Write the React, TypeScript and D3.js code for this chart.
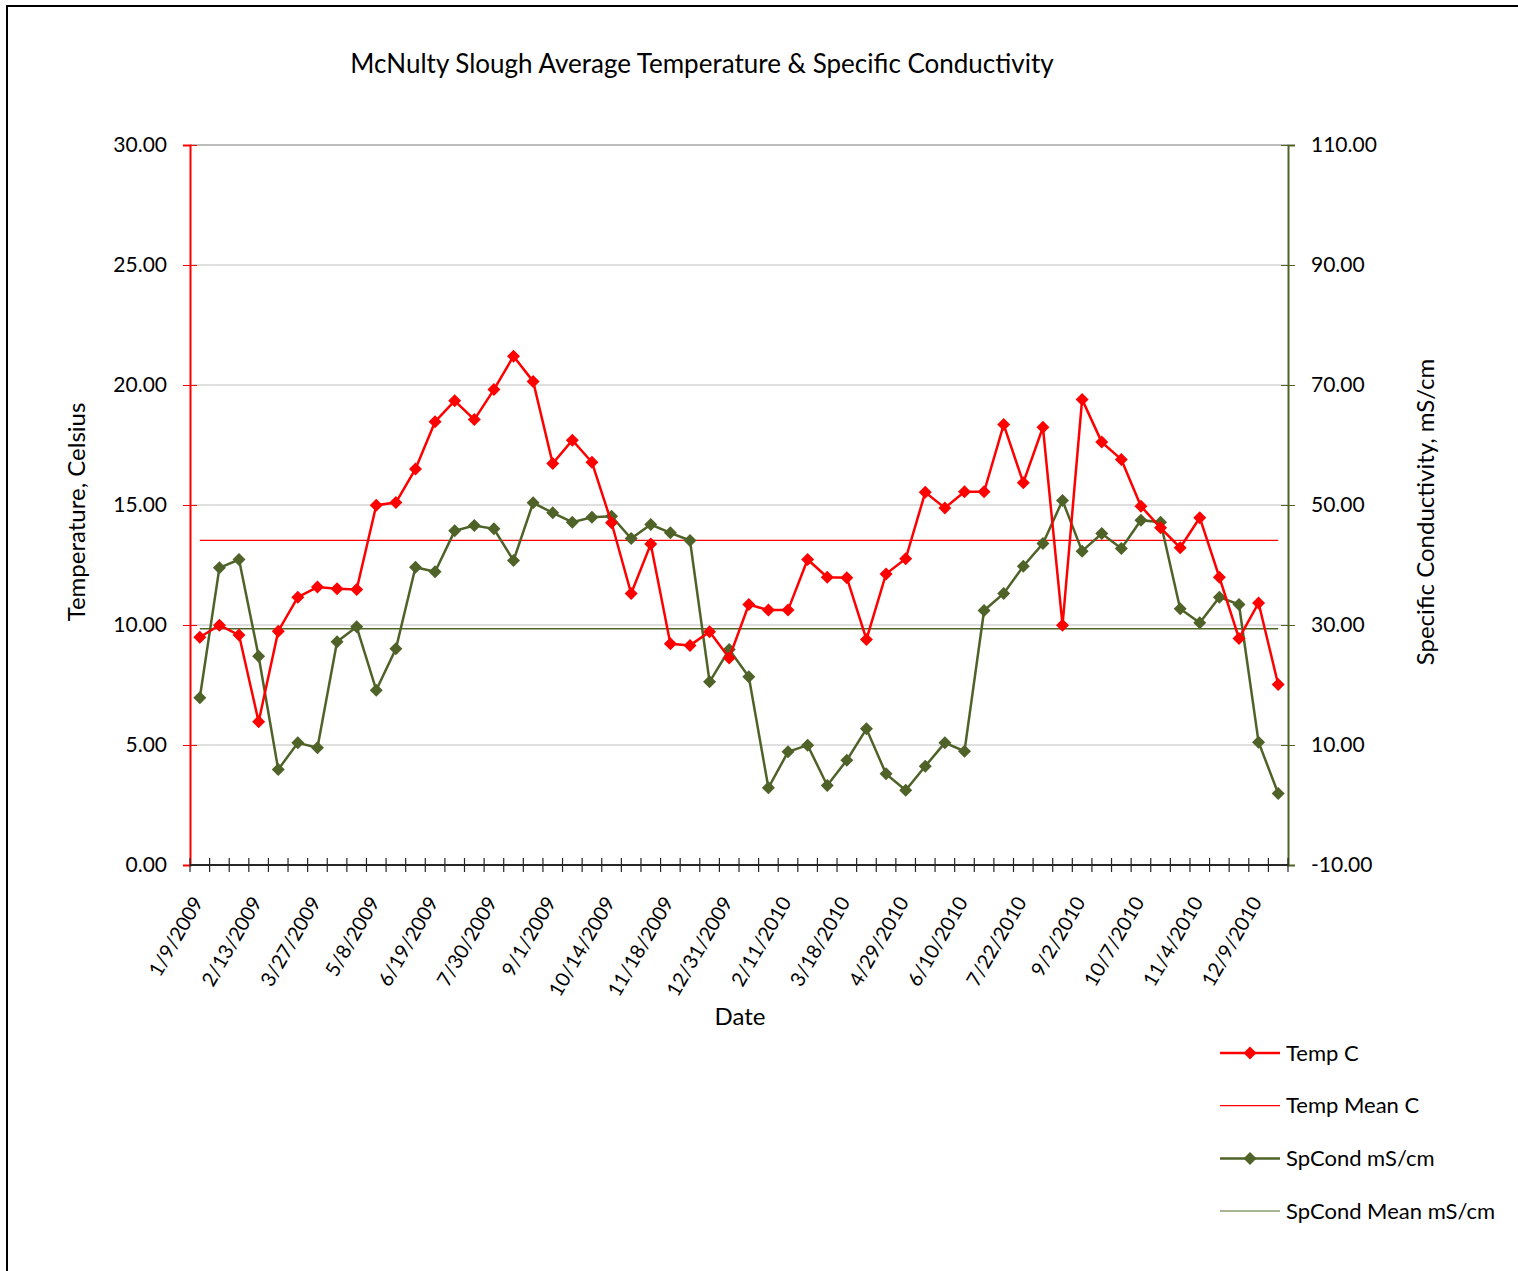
import React, { useRef, useLayoutEffect } from "react";
import * as d3 from "d3";

const tempC = [
  9.49, 9.99, 9.58, 5.97, 9.74, 11.16, 11.58, 11.51, 11.48, 14.99, 15.1, 16.5,
  18.47, 19.34, 18.56, 19.81, 21.2, 20.15, 16.73, 17.7, 16.78, 14.26, 11.31,
  13.37, 9.22, 9.15, 9.72, 8.63, 10.85, 10.62, 10.62, 12.73, 11.99, 11.97, 9.4,
  12.13, 12.76, 15.53, 14.88, 15.55, 15.55, 18.35, 15.93, 18.24, 9.99, 19.4,
  17.62, 16.9, 14.95, 14.05, 13.22, 14.47, 11.99, 9.44, 10.92, 7.52,
];

const spCond = [
  17.87, 39.53, 40.92, 24.8, 5.92, 10.36, 9.53, 27.2, 29.69, 19.14, 26.03,
  39.64, 38.86, 45.69, 46.58, 46.03, 40.75, 50.36, 48.69, 47.14, 47.97, 48.14,
  44.42, 46.75, 45.36, 44.08, 20.53, 25.92, 21.36, 2.86, 8.86, 9.97, 3.25, 7.47,
  12.69, 5.19, 2.47, 6.47, 10.36, 8.97, 32.42, 35.25, 39.8, 43.58, 50.75, 42.3,
  45.25, 42.75, 47.47, 47.14, 32.69, 30.36, 34.64, 33.42, 10.47, 1.92,
];

const tempMean = 13.53;
const spCondMean = 29.37;

// one label every third sample
const dateLabels = [
  "1/9/2009", "2/13/2009", "3/27/2009", "5/8/2009", "6/19/2009", "7/30/2009",
  "9/1/2009", "10/14/2009", "11/18/2009", "12/31/2009", "2/11/2010",
  "3/18/2010", "4/29/2010", "6/10/2010", "7/22/2010", "9/2/2010", "10/7/2010",
  "11/4/2010", "12/9/2010",
];

const tempTicks = [0, 5, 10, 15, 20, 25, 30];
const condTicks = [-10, 10, 30, 50, 70, 90, 110];

const legendItems = [
  { label: "Temp C", color: "#FF0000", width: 2.5, marker: true },
  { label: "Temp Mean C", color: "#FF0000", width: 1.2, marker: false },
  { label: "SpCond mS/cm", color: "#4F6228", width: 2.5, marker: true },
  { label: "SpCond Mean mS/cm", color: "#8A9A6E", width: 1.5, marker: false },
];

const RED = "#FF0000";
const GREEN = "#4F6228";
const FONT = "Lato, 'Open Sans', sans-serif";
const diamond = "M0,-6.5L6.5,0L0,6.5L-6.5,0Z";

export default function App() {
  const svgRef = useRef<SVGSVGElement | null>(null);

  useLayoutEffect(() => {
    const svg = svgRef.current;
    if (!svg) return;
    const W = 1518;
    const H = 1271;
    const M = { l: 190, r: 1288, t: 145, b: 865 };

    const idx = d3.range(tempC.length);
    const x = d3.scaleBand<number>().domain(idx).range([M.l, M.r]);
    const cx = (i: number) => (x(i) as number) + x.bandwidth() / 2;
    const yT = d3.scaleLinear().domain([0, 30]).range([M.b, M.t]);
    const yC = d3.scaleLinear().domain([-10, 110]).range([M.b, M.t]);
    const fmt = (d: d3.NumberValue) => (+d).toFixed(2);

    const sel = d3.select(svg);
    sel.selectAll("*").remove();
    sel.attr("width", W).attr("height", H).style("font-family", FONT);

    sel.append("rect").attr("width", W).attr("height", H).attr("fill", "#fff");

    // outer chart frame (runs past the window on right/bottom)
    sel
      .append("path")
      .attr("d", `M7,${H + 5}V6H${W + 5}`)
      .attr("fill", "none")
      .attr("stroke", "#000")
      .attr("stroke-width", 2);

    sel
      .append("text")
      .attr("x", 702)
      .attr("y", 73)
      .attr("text-anchor", "middle")
      .attr("font-size", 26)
      .attr("fill", "#000")
      .text("McNulty Slough Average Temperature & Specific Conductivity");

    // gridlines
    sel
      .append("g")
      .selectAll("line")
      .data(tempTicks.slice(1))
      .enter()
      .append("line")
      .attr("x1", M.l)
      .attr("x2", M.r)
      .attr("y1", (d) => yT(d))
      .attr("y2", (d) => yT(d))
      .attr("stroke", (d) => (d === 30 ? "#a6a6a6" : "#d4d4d4"))
      .attr("stroke-width", 1.5);

    // left axis
    const gl = sel
      .append("g")
      .attr("transform", `translate(${M.l},0)`)
      .call(d3.axisLeft(yT).tickValues(tempTicks).tickFormat(fmt).tickSize(7).tickPadding(16));
    gl.select(".domain").attr("stroke", RED).attr("stroke-width", 2);
    gl.selectAll(".tick line").attr("x1", 7).attr("x2", -7).attr("stroke", RED);
    gl.selectAll(".tick text").attr("font-size", 21).attr("fill", "#000").attr("font-family", FONT);

    // right axis
    const gr = sel
      .append("g")
      .attr("transform", `translate(${M.r},0)`)
      .call(d3.axisRight(yC).tickValues(condTicks).tickFormat(fmt).tickSize(7).tickPadding(16));
    gr.select(".domain").attr("stroke", GREEN).attr("stroke-width", 2);
    gr.selectAll(".tick line").attr("x1", -7).attr("x2", 7).attr("stroke", GREEN);
    gr.selectAll(".tick text").attr("font-size", 21).attr("fill", "#000").attr("font-family", FONT);

    // bottom category axis
    const gb = sel.append("g");
    gb.append("line")
      .attr("x1", M.l)
      .attr("x2", M.r)
      .attr("y1", M.b)
      .attr("y2", M.b)
      .attr("stroke", "#262626")
      .attr("stroke-width", 2);
    gb.selectAll("line.tk")
      .data(d3.range(tempC.length + 1))
      .enter()
      .append("line")
      .attr("class", "tk")
      .attr("x1", (i) => M.l + i * x.bandwidth())
      .attr("x2", (i) => M.l + i * x.bandwidth())
      .attr("y1", M.b - 7)
      .attr("y2", M.b + 7)
      .attr("stroke", "#262626")
      .attr("stroke-width", 1.2);
    gb.selectAll("text")
      .data(dateLabels)
      .enter()
      .append("text")
      .attr("transform", (_, k) => `translate(${cx(k * 3) + 4},902) rotate(-60)`)
      .attr("text-anchor", "end")
      .attr("font-size", 20)
      .attr("fill", "#000")
      .text((d) => d);

    // axis titles
    sel
      .append("text")
      .attr("transform", `translate(85,512) rotate(-90)`)
      .attr("text-anchor", "middle")
      .attr("font-size", 24)
      .attr("fill", "#000")
      .text("Temperature, Celsius");
    sel
      .append("text")
      .attr("transform", `translate(1434,512) rotate(-90)`)
      .attr("text-anchor", "middle")
      .attr("font-size", 24)
      .attr("fill", "#000")
      .text("Specific Conductivity, mS/cm");
    sel
      .append("text")
      .attr("x", 740)
      .attr("y", 1025)
      .attr("text-anchor", "middle")
      .attr("font-size", 24)
      .attr("fill", "#000")
      .text("Date");

    // mean lines
    sel
      .append("line")
      .attr("x1", cx(0))
      .attr("x2", cx(idx.length - 1))
      .attr("y1", yT(tempMean))
      .attr("y2", yT(tempMean))
      .attr("stroke", RED)
      .attr("stroke-width", 1.3);
    sel
      .append("line")
      .attr("x1", cx(0))
      .attr("x2", cx(idx.length - 1))
      .attr("y1", yC(spCondMean))
      .attr("y2", yC(spCondMean))
      .attr("stroke", GREEN)
      .attr("stroke-width", 1.5);

    // series
    const drawSeries = (vals: number[], y: d3.ScaleLinear<number, number>, color: string) => {
      const line = d3
        .line<number>()
        .x((_, i) => cx(i))
        .y((d) => y(d));
      sel
        .append("path")
        .datum(vals)
        .attr("d", line)
        .attr("fill", "none")
        .attr("stroke", color)
        .attr("stroke-width", 2.5);
      sel
        .append("g")
        .selectAll("path")
        .data(vals)
        .enter()
        .append("path")
        .attr("d", diamond)
        .attr("transform", (d, i) => `translate(${cx(i)},${y(d)})`)
        .attr("fill", color);
    };
    drawSeries(spCond, yC, GREEN);
    drawSeries(tempC, yT, RED);

    // legend
    const lg = sel
      .append("g")
      .selectAll("g")
      .data(legendItems)
      .enter()
      .append("g")
      .attr("transform", (_, k) => `translate(1220,${1053 + k * 52.7})`);
    lg.append("line")
      .attr("x1", 0)
      .attr("x2", 60)
      .attr("stroke", (d) => d.color)
      .attr("stroke-width", (d) => d.width);
    lg.filter((d) => d.marker)
      .append("path")
      .attr("d", diamond)
      .attr("transform", "translate(30,0)")
      .attr("fill", (d) => d.color);
    lg.append("text")
      .attr("x", 66)
      .attr("dy", "0.35em")
      .attr("font-size", 22)
      .attr("fill", "#000")
      .text((d) => d.label);
  }, []);

  return (
    <div style={{ position: "absolute", left: 0, top: 0 }}>
      <svg ref={svgRef} style={{ display: "block" }} />
    </div>
  );
}
